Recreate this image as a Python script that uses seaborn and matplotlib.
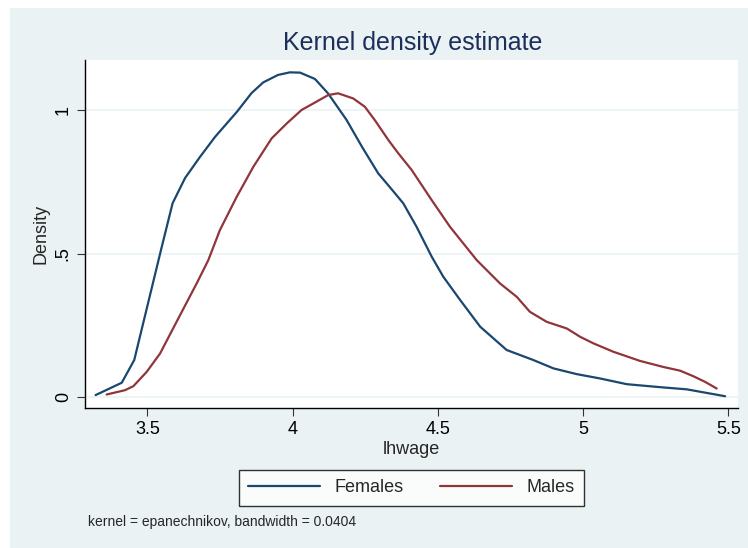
import numpy as np
import pandas as pd
import seaborn as sns
import matplotlib.pyplot as plt
from matplotlib.patches import Rectangle

# density curves (kdensity output)
fem_x = [3.322, 3.412, 3.455, 3.547, 3.587, 3.63, 3.681, 3.733, 3.808, 3.859,
         3.899, 3.95, 3.991, 4.026, 4.077, 4.122, 4.186, 4.24, 4.295, 4.34,
         4.381, 4.427, 4.479, 4.519, 4.577, 4.646, 4.737, 4.829, 4.898, 4.978,
         5.058, 5.15, 5.26, 5.357, 5.489]
fem_y = [0.007, 0.05, 0.129, 0.512, 0.675, 0.763, 0.836, 0.906, 0.993, 1.059,
         1.096, 1.122, 1.131, 1.13, 1.108, 1.058, 0.965, 0.87, 0.779, 0.725,
         0.675, 0.593, 0.489, 0.419, 0.338, 0.245, 0.164, 0.129, 0.1, 0.08,
         0.065, 0.045, 0.035, 0.027, 0.003]

male_x = [3.36, 3.423, 3.452, 3.498, 3.544, 3.613, 3.67, 3.71, 3.75, 3.808,
          3.865, 3.928, 3.98, 4.031, 4.072, 4.123, 4.157, 4.209, 4.249, 4.285,
          4.33, 4.364, 4.41, 4.479, 4.542, 4.634, 4.714, 4.772, 4.817, 4.875,
          4.944, 4.99, 5.036, 5.104, 5.196, 5.276, 5.334, 5.379, 5.42, 5.46]
male_y = [0.009, 0.024, 0.038, 0.088, 0.152, 0.286, 0.396, 0.477, 0.582, 0.698,
          0.802, 0.901, 0.953, 1.0, 1.023, 1.052, 1.058, 1.04, 1.011, 0.962,
          0.895, 0.849, 0.791, 0.686, 0.593, 0.477, 0.396, 0.349, 0.297, 0.262,
          0.239, 0.21, 0.187, 0.158, 0.126, 0.105, 0.092, 0.073, 0.053, 0.03]

groups = ["Females", "Males"]
colors = ["#1a476f", "#90353b"]

df = pd.concat([
    pd.DataFrame({"lhwage": fem_x, "Density": fem_y, "group": "Females"}),
    pd.DataFrame({"lhwage": male_x, "Density": male_y, "group": "Males"}),
])

sns.set_style("white")
plt.rcParams["font.family"] = ["Liberation Sans Narrow", "Liberation Sans", "DejaVu Sans"]

bg = "#eaf2f3"
fig = plt.figure(figsize=(7.48, 5.48), dpi=100, facecolor=bg)
# thin white strips along the top and left edges only
fig.patches.append(Rectangle((0, 540 / 548), 1, 8 / 548, transform=fig.transFigure,
                             facecolor="white", edgecolor="none", zorder=-10))
fig.patches.append(Rectangle((0, 0), 10 / 748, 1, transform=fig.transFigure,
                             facecolor="white", edgecolor="none", zorder=-10))
ax = fig.add_axes([85 / 748, 140 / 548, 653 / 748, 348 / 548])
ax.set_facecolor("white")

sns.lineplot(data=df, x="lhwage", y="Density", hue="group", hue_order=groups,
             palette=colors, linewidth=1.6, ax=ax, sort=False)
ax.get_legend().remove()

ax.set_xlim(3.2855, 5.5334)
ax.set_ylim(-0.038, 1.174)
ax.set_xticks([3.5, 4, 4.5, 5, 5.5])
ax.set_xticklabels(["3.5", "4", "4.5", "5", "5.5"])
ax.set_yticks([0, 0.5, 1])
ax.set_yticklabels(["0", ".5", "1"], rotation=90, va="center")
for yv in [0, 0.5, 1]:
    ax.axhline(yv, color=bg, lw=1.2, zorder=0)

for s in ["top", "right"]:
    ax.spines[s].set_visible(False)
for s in ["left", "bottom"]:
    ax.spines[s].set_color("black")
    ax.spines[s].set_linewidth(1.0)
ax.tick_params(axis="both", direction="out", length=6, width=0.8,
               color="#333333", labelsize=13, labelcolor="black",
               bottom=True, left=True)

ax.set_xlabel("lhwage", fontsize=13, labelpad=2)
ax.set_ylabel("Density", fontsize=13, labelpad=4)
fig.text((276 + 549) / 2 / 748, 1 - 43 / 548, "Kernel density estimate",
         ha="center", va="center", fontsize=18, color="#1c2f5b")

handles, labels = ax.get_legend_handles_labels()
leg = fig.legend(handles, labels, loc="center",
                 bbox_to_anchor=((243 + 580) / 2 / 748, 1 - 488 / 548),
                 ncol=2, fontsize=13, frameon=True, fancybox=False,
                 edgecolor="black", handlelength=4.0, columnspacing=2.0,
                 borderpad=0.5)
leg.get_frame().set_linewidth(1.0)

fig.text(88 / 748, 1 - 522 / 548, "kernel = epanechnikov, bandwidth = 0.0404",
         ha="left", va="center", fontsize=10)

fig.savefig("out.png", dpi=100, facecolor=fig.get_facecolor())
